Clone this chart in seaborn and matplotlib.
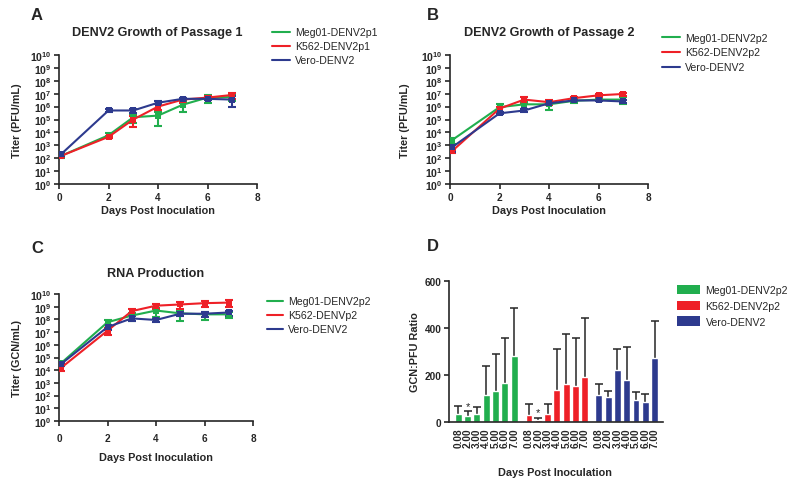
"""
DENV2 growth / RNA production / GCN:PFU ratio figure (panels A-D).
"""

import matplotlib
matplotlib.use("Agg")

import matplotlib.pyplot as plt
import numpy as np
import pandas as pd
import seaborn as sns
from matplotlib.lines import Line2D
from matplotlib.patches import Patch
from matplotlib.ticker import FuncFormatter

# ---------------------------------
# Data
# ---------------------------------

DAYS = [0.08, 2, 3, 4, 5, 6, 7]

# Panel A - passage 1 (PFU/mL)
A_LABELS = ["Meg01-DENV2p1", "K562-DENV2p1", "Vero-DENV2"]
A_MEG = [150, 6000, 1.5e5, 2.0e5, 1.4e6, 5.0e6, 5.5e6]
A_MEG_SD = [40, 2500, 1.0e5, 1.7e5, 1.0e6, 3.0e6, 3.0e6]
A_K562 = [150, 4500, 1.0e5, 1.0e6, 3.5e6, 5.0e6, 8.0e6]
A_K562_SD = [30, 1000, 7.5e4, 5e5, 1.5e6, 2e6, 4e6]
A_VERO = [200, 5.0e5, 5.0e5, 2.0e6, 4.0e6, 4.0e6, 3.5e6]
A_VERO_SD = [60, 1e5, 2e5, 5e5, 1e6, 1e6, 2.6e6]

# Panel B - passage 2 (PFU/mL)
B_LABELS = ["Meg01-DENV2p2", "K562-DENV2p2", "Vero-DENV2"]
B_MEG = [2.5e3, 9e5, 1.5e6, 1.5e6, 2.8e6, 3.5e6, 3.5e6]
B_MEG_SD = [1.2e3, 6e5, 8e5, 1.0e6, 1.0e6, 1.0e6, 2.0e6]
B_K562 = [350, 7e5, 3.5e6, 2.2e6, 4.5e6, 7.5e6, 9.5e6]
B_K562_SD = [100, 3e5, 2e6, 8e5, 1e6, 2e6, 2.5e6]
B_VERO = [700, 3e5, 5e5, 1.8e6, 3.0e6, 3.0e6, 2.5e6]
B_VERO_SD = [400, 5e4, 1e5, 3e5, 5e5, 5e5, 5e5]

# Panel C - RNA production (GCN/mL)
C_LABELS = ["Meg01-DENV2p2", "K562-DENVp2", "Vero-DENV2"]
C_MEG = [3.5e4, 6e7, 2e8, 5e8, 3e8, 2.5e8, 2.5e8]
C_MEG_SD = [8e3, 2.5e7, 1.2e8, 3.5e8, 2.3e8, 1.6e8, 1.2e8]
C_K562 = [1.5e4, 1.3e7, 4.5e8, 1.2e9, 1.5e9, 1.9e9, 2.1e9]
C_K562_SD = [7e3, 7e6, 2.5e8, 5e8, 8e8, 1e9, 1.2e9]
C_VERO = [3e4, 2.5e7, 1.2e8, 9e7, 2.8e8, 2.8e8, 3.5e8]
C_VERO_SD = [8e3, 1e7, 5e7, 2.5e7, 1.0e8, 1.2e8, 1.5e8]

# Panel D - GCN:PFU ratio
D_LABELS = ["Meg01-DENV2p2", "K562-DENV2p2", "Vero-DENV2"]
D_TICKS = ["0.08", "2.00", "3.00", "4.00", "5.00", "6.00", "7.00"]
D_MEG = [35, 25, 32, 115, 130, 165, 280]
D_MEG_SD = [35, 20, 30, 125, 160, 193, 203]
D_K562 = [30, 10, 32, 135, 162, 152, 193]
D_K562_SD = [45, 8, 46, 177, 211, 206, 250]
D_VERO = [115, 105, 220, 180, 95, 83, 272]
D_VERO_SD = [45, 27, 90, 138, 33, 37, 158]
D_STARRED = [(0, 1), (1, 1)]  # (group, bar) marked with *

GREEN = "#21ae4e"
RED = "#ee2027"
BLUE = "#2d3a8e"
COLORS = [GREEN, RED, BLUE]

W, H = 790, 481

sns.set_style("ticks")
plt.rcParams["font.family"] = ["Liberation Sans", "DejaVu Sans"]
plt.rcParams["font.weight"] = "bold"
plt.rcParams["axes.labelweight"] = "bold"
plt.rcParams["mathtext.fontset"] = "custom"
plt.rcParams["mathtext.rm"] = "Liberation Sans:bold"
plt.rcParams["mathtext.bf"] = "Liberation Sans:bold"
plt.rcParams["mathtext.it"] = "Liberation Sans:bold"
plt.rcParams["axes.linewidth"] = 1.2

fig = plt.figure(figsize=(7.9, 4.81), dpi=100)


def px_axes(x0, y_top, x1, y_bot):
    return fig.add_axes([x0 / W, 1 - y_bot / H, (x1 - x0) / W, (y_bot - y_top) / H])


def legend_at(handles, labels, x, y, spacing, **kw):
    fig.legend(handles, labels, loc="upper left",
               bbox_to_anchor=(x / W, 1 - y / H), frameon=False,
               prop={"weight": "normal", "size": 7.6},
               borderaxespad=0, borderpad=0, labelspacing=spacing, **kw)


def log_label(v, pos):
    return r"$\mathbf{10^{%d}}$" % int(round(np.log10(v)))


# ---------------------------------
# Growth curve panels
# ---------------------------------

def growth_panel(ax, labels, series, ylabel, ylabel_x, xlabel_y, xpad):

    rows = []
    for lab, (mean, sd) in zip(labels, series):
        for d, m in zip(DAYS, mean):
            rows.append({"day": d, "titer": m, "line": lab})
    df = pd.DataFrame(rows)

    ax.set_yscale("log")

    for (mean, sd), c in zip(series, COLORS):
        ax.errorbar(DAYS, mean, yerr=sd, fmt="none", ecolor=c,
                    elinewidth=1.5, capsize=2.8, capthick=1.5, zorder=3)

    sns.lineplot(data=df, x="day", y="titer", hue="line", hue_order=labels,
                 palette=dict(zip(labels, COLORS)), marker="s", markersize=4,
                 markeredgewidth=0, linewidth=1.5, errorbar=None,
                 legend=False, ax=ax, zorder=4)

    ax.set_ylim(1, 1e10)
    ax.set_xlim(0, 8)
    ax.set_xticks([0, 2, 4, 6, 8])
    ax.set_yticks([10.0 ** i for i in range(11)])
    ax.yaxis.set_major_formatter(FuncFormatter(log_label))
    ax.tick_params(axis="both", labelsize=7.6, length=3.5, width=1.2, pad=2)
    ax.tick_params(axis="x", pad=xpad, labelsize=7.2)
    ax.tick_params(axis="y", which="minor", length=2, width=0.8)

    ax.set_xlabel("Days Post Inoculation", fontsize=7.8)
    ax.set_ylabel(ylabel, fontsize=7.8)
    ax.xaxis.label.set_va("center")
    ax.yaxis.label.set_va("center")
    ax.xaxis.set_label_coords(0.5, xlabel_y)
    ax.yaxis.set_label_coords(ylabel_x, 0.5)
    sns.despine(ax=ax)


line_handles = [Line2D([], [], color=c, lw=1.5) for c in COLORS]

# Panel A
axA = px_axes(59, 56, 257, 185)
growth_panel(axA, A_LABELS,
             [(A_MEG, A_MEG_SD), (A_K562, A_K562_SD), (A_VERO, A_VERO_SD)],
             "Titer (PFU/mL)", -0.212, -0.2, 2)
fig.text(157 / W, 1 - 33 / H, "DENV2 Growth of Passage 1", ha="center",
         va="center", fontsize=9.1, fontweight="bold")
fig.text(37 / W, 1 - 16 / H, "A", ha="center", va="center", fontsize=12,
         fontweight="bold")
legend_at(line_handles, A_LABELS, 272, 28.5, 0.37, handlelength=1.7,
          handletextpad=0.5)

# Panel B
axB = px_axes(450, 56, 648, 185)
growth_panel(axB, B_LABELS,
             [(B_MEG, B_MEG_SD), (B_K562, B_K562_SD), (B_VERO, B_VERO_SD)],
             "Titer (PFU/mL)", -0.227, -0.2, 2)
fig.text(549 / W, 1 - 33 / H, "DENV2 Growth of Passage 2", ha="center",
         va="center", fontsize=9.1, fontweight="bold")
fig.text(433 / W, 1 - 16 / H, "B", ha="center", va="center", fontsize=12,
         fontweight="bold")
legend_at(line_handles, B_LABELS, 662, 33.5, 0.46, handlelength=1.7,
          handletextpad=0.5)

# Panel C
axC = px_axes(59, 295, 253, 422)
growth_panel(axC, C_LABELS,
             [(C_MEG, C_MEG_SD), (C_K562, C_K562_SD), (C_VERO, C_VERO_SD)],
             "Titer (GCN/mL)", -0.216, -0.287, 5)
fig.text(156 / W, 1 - 274 / H, "RNA Production", ha="center",
         va="center", fontsize=9.1, fontweight="bold")
fig.text(37 / W, 1 - 249 / H, "C", ha="center", va="center", fontsize=12,
         fontweight="bold")
legend_at(line_handles, C_LABELS, 267, 297.5, 0.37, handlelength=1.5,
          handletextpad=0.5)

# ---------------------------------
# Panel D - ratio bars
# ---------------------------------

axD = px_axes(449, 282, 663, 423)

group_start = [0, 7.6, 15.1]
d_means = [D_MEG, D_K562, D_VERO]
d_sds = [D_MEG_SD, D_K562_SD, D_VERO_SD]

rows = []
for g, (lab, mean) in enumerate(zip(D_LABELS, d_means)):
    for i, m in enumerate(mean):
        rows.append({"pos": round(group_start[g] + i, 2), "ratio": m, "line": lab})
dfD = pd.DataFrame(rows)

sns.barplot(data=dfD, x="pos", y="ratio", hue="line", hue_order=D_LABELS,
            palette=dict(zip(D_LABELS, COLORS)), native_scale=True,
            dodge=False, width=0.74, errorbar=None, legend=False,
            saturation=1, ax=axD, zorder=2)

for g, (mean, sd) in enumerate(zip(d_means, d_sds)):
    pos = [group_start[g] + i for i in range(len(mean))]
    _, caps, _ = axD.errorbar(pos, mean, yerr=[np.zeros(len(sd)), sd],
                              fmt="none", ecolor="#262626", elinewidth=1.1,
                              capsize=2.6, capthick=1.1, zorder=1)
    caps[0].set_visible(False)

for g, i in D_STARRED:
    top = d_means[g][i] + d_sds[g][i]
    axD.text(group_start[g] + i, top + 2, "*", ha="center", va="bottom",
             fontsize=8, fontweight="normal", color="#262626")

tick_pos = [group_start[g] + i for g in range(3) for i in range(len(D_TICKS))]
axD.set_xticks(tick_pos)
axD.set_xticklabels(D_TICKS * 3, rotation=90)
axD.set_xlim(-1.0, 22.0)
axD.set_ylim(0, 600)
axD.set_yticks([0, 200, 400, 600])
axD.tick_params(axis="both", labelsize=7.2, length=3.5, width=1.2, pad=2)
axD.tick_params(axis="x", length=0, pad=4)
axD.set_xlabel("Days Post Inoculation", fontsize=7.8)
axD.set_ylabel("GCN:PFU Ratio", fontsize=7.8)
axD.xaxis.label.set_va("center")
axD.yaxis.label.set_va("center")
axD.xaxis.set_label_coords(0.495, -0.355)
axD.yaxis.set_label_coords(-0.159, 0.5)
sns.despine(ax=axD)

fig.text(433 / W, 1 - 247 / H, "D", ha="center", va="center", fontsize=12,
         fontweight="bold")
bar_handles = [Patch(facecolor=c, edgecolor="none") for c in COLORS]
legend_at(bar_handles, D_LABELS, 677, 286, 0.5, handlelength=2.2,
          handleheight=1.0, handletextpad=0.5)

fig.savefig("out.png", dpi=100)
